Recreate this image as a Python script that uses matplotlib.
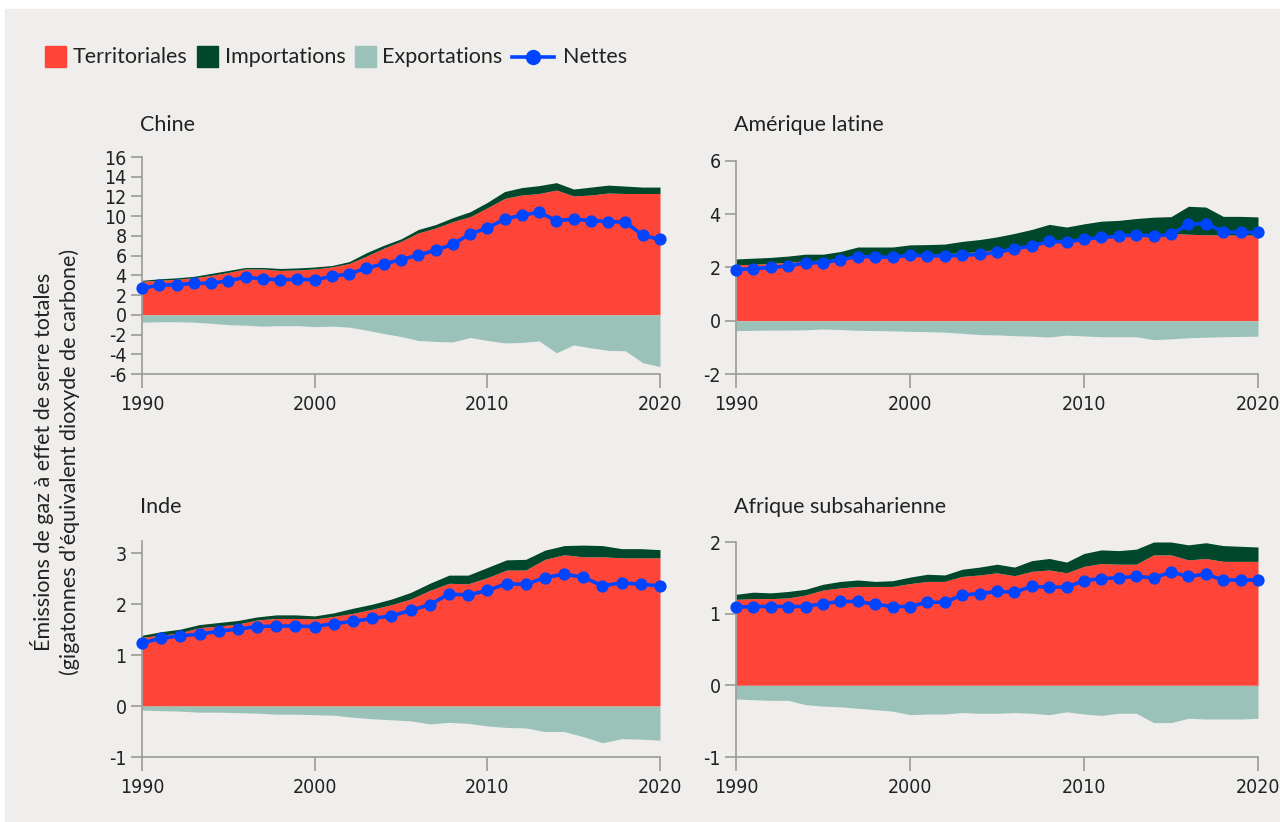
import numpy as np
import matplotlib
matplotlib.use('Agg')
import matplotlib.pyplot as plt
from matplotlib.patches import Rectangle
from matplotlib.lines import Line2D

plt.rcParams['axes.unicode_minus'] = False

# data (gigatonnes CO2e)
years = np.arange(1990, 2021)
india_years = np.linspace(1990, 2020, 28)  # India series has 28 points over the same span

china_terr = [3.4, 3.5, 3.6, 3.75, 4.0, 4.3, 4.65, 4.65, 4.5, 4.55, 4.65, 4.85, 5.2, 5.95, 6.75, 7.45,
              8.3, 8.8, 9.45, 9.95, 10.85, 11.8, 12.15, 12.3, 12.65, 12.05, 12.15, 12.35, 12.3, 12.3, 12.3]
china_imp = [0.1, 0.15, 0.15, 0.15, 0.2, 0.2, 0.15, 0.15, 0.2, 0.2, 0.2, 0.15, 0.2, 0.35, 0.3, 0.25,
             0.35, 0.35, 0.4, 0.5, 0.55, 0.7, 0.75, 0.8, 0.75, 0.7, 0.8, 0.8, 0.75, 0.65, 0.65]
china_exp = [0.75, 0.7, 0.7, 0.75, 0.85, 1.0, 1.05, 1.15, 1.1, 1.1, 1.2, 1.15, 1.25, 1.55, 1.9, 2.2,
             2.6, 2.7, 2.75, 2.3, 2.6, 2.85, 2.8, 2.65, 3.85, 3.05, 3.35, 3.6, 3.65, 4.85, 5.25]
china_net = [2.7, 3.0, 3.05, 3.2, 3.2, 3.45, 3.8, 3.65, 3.55, 3.6, 3.55, 3.9, 4.15, 4.75, 5.15, 5.6,
             6.05, 6.55, 7.15, 8.2, 8.8, 9.7, 10.1, 10.4, 9.55, 9.7, 9.55, 9.45, 9.4, 8.05, 7.65]

latam_terr = [2.1, 2.12, 2.15, 2.2, 2.25, 2.28, 2.33, 2.42, 2.45, 2.45, 2.5, 2.52, 2.52, 2.55, 2.6, 2.68,
              2.75, 2.85, 2.98, 3.0, 3.1, 3.15, 3.18, 3.22, 3.25, 3.28, 3.25, 3.23, 3.22, 3.22, 3.22]
latam_imp = [0.22, 0.23, 0.23, 0.23, 0.25, 0.22, 0.27, 0.35, 0.32, 0.32, 0.35, 0.34, 0.36, 0.43, 0.45, 0.47,
             0.53, 0.58, 0.64, 0.52, 0.54, 0.59, 0.59, 0.62, 0.64, 0.63, 1.05, 1.04, 0.7, 0.7, 0.68]
latam_exp = [0.37, 0.36, 0.35, 0.35, 0.34, 0.31, 0.33, 0.36, 0.37, 0.38, 0.4, 0.41, 0.43, 0.47, 0.52, 0.53,
             0.56, 0.58, 0.61, 0.54, 0.57, 0.6, 0.6, 0.6, 0.71, 0.68, 0.64, 0.62, 0.6, 0.59, 0.58]
latam_net = [1.92, 1.96, 2.0, 2.06, 2.17, 2.18, 2.29, 2.41, 2.4, 2.38, 2.46, 2.44, 2.43, 2.46, 2.49, 2.57,
             2.7, 2.81, 2.98, 2.96, 3.06, 3.13, 3.17, 3.23, 3.18, 3.24, 3.63, 3.65, 3.34, 3.32, 3.32]

india_terr = [1.35, 1.39, 1.44, 1.54, 1.57, 1.61, 1.69, 1.72, 1.72, 1.71, 1.76, 1.82, 1.9, 1.99,
              2.1, 2.27, 2.41, 2.4, 2.52, 2.67, 2.67, 2.88, 2.97, 2.93, 2.93, 2.91, 2.91, 2.91]
india_imp = [0.04, 0.07, 0.07, 0.06, 0.07, 0.07, 0.06, 0.07, 0.07, 0.06, 0.07, 0.1, 0.1, 0.11,
             0.13, 0.14, 0.16, 0.17, 0.2, 0.2, 0.21, 0.18, 0.18, 0.23, 0.22, 0.18, 0.18, 0.16]
india_exp = [0.08, 0.09, 0.1, 0.12, 0.12, 0.13, 0.14, 0.16, 0.16, 0.17, 0.18, 0.22, 0.25, 0.27,
             0.29, 0.35, 0.32, 0.34, 0.39, 0.42, 0.43, 0.5, 0.5, 0.6, 0.72, 0.64, 0.65, 0.67]
india_net = [1.24, 1.33, 1.38, 1.41, 1.47, 1.51, 1.56, 1.57, 1.57, 1.56, 1.62, 1.66, 1.72, 1.77,
             1.88, 1.99, 2.2, 2.18, 2.27, 2.4, 2.39, 2.52, 2.59, 2.53, 2.36, 2.42, 2.39, 2.36]

africa_terr = [1.2, 1.21, 1.21, 1.22, 1.26, 1.33, 1.36, 1.38, 1.38, 1.38, 1.42, 1.45, 1.45, 1.52, 1.54, 1.57,
               1.53, 1.59, 1.61, 1.57, 1.66, 1.7, 1.69, 1.69, 1.82, 1.82, 1.75, 1.77, 1.73, 1.73, 1.73]
africa_imp = [0.07, 0.09, 0.08, 0.09, 0.08, 0.08, 0.09, 0.09, 0.07, 0.08, 0.09, 0.1, 0.09, 0.1, 0.11, 0.12,
              0.12, 0.15, 0.16, 0.15, 0.18, 0.19, 0.19, 0.21, 0.18, 0.18, 0.21, 0.22, 0.22, 0.21, 0.2]
africa_exp = [0.19, 0.2, 0.21, 0.21, 0.27, 0.29, 0.3, 0.32, 0.34, 0.36, 0.41, 0.4, 0.4, 0.38, 0.39, 0.39,
              0.38, 0.39, 0.41, 0.37, 0.4, 0.42, 0.39, 0.39, 0.52, 0.52, 0.46, 0.47, 0.47, 0.47, 0.46]
africa_net = [1.09, 1.1, 1.1, 1.1, 1.1, 1.14, 1.17, 1.17, 1.13, 1.1, 1.1, 1.16, 1.16, 1.26, 1.28, 1.31,
              1.3, 1.38, 1.37, 1.37, 1.46, 1.49, 1.5, 1.52, 1.5, 1.58, 1.52, 1.55, 1.47, 1.47, 1.47]

series_labels = ["Territoriales", "Importations", "Exportations", "Nettes"]
xticks = [1990, 2000, 2010, 2020]

RED = '#FF4538'
GREEN = '#00472B'
TEAL = '#9BC2B9'
BLUE = '#0044FF'
BG = '#EFEEEC'
INK = '#222222'
AXIS = '#9A9A9A'
TITLE_FONT = ['Lato', 'DejaVu Sans']
TICK_FONT = ['DejaVu Sans']

W, H = 1280, 822
fig = plt.figure(figsize=(12.8, 8.22), dpi=100, facecolor='white')
fig.add_artist(Rectangle((5 / W, 0), 1, 1 - 9 / H, transform=fig.transFigure,
                         color=BG, zorder=-10))

# name, x, terr, imp, exp, net, box (left, top, right, bottom px), ylim, yticks, title pos
panels = [
    ("Chine", years, china_terr, china_imp, china_exp, china_net,
     (142, 157, 660, 374), (-6, 16), np.arange(-6, 17, 2), (140, 125)),
    ("Amérique latine", years, latam_terr, latam_imp, latam_exp, latam_net,
     (736, 161, 1258, 374), (-2, 6), np.arange(-2, 7, 2), (734, 125)),
    ("Inde", india_years, india_terr, india_imp, india_exp, india_net,
     (142, 541, 660, 757), (-1, 3.24), np.arange(-1, 4, 1), (140, 507)),
    ("Afrique subsaharienne", years, africa_terr, africa_imp, africa_exp, africa_net,
     (736, 542, 1258, 757), (-1, 2), np.arange(-1, 3, 1), (734, 507)),
]

for name, x, terr, imp, exp, net, box, ylim, yticks, tpos in panels:
    left, top, right, bottom = box
    ax = fig.add_axes([left / W, 1 - bottom / H, (right - left) / W, (bottom - top) / H])
    ax.set_facecolor('none')
    terr = np.array(terr)
    ax.fill_between(x, 0, terr, color=RED, lw=0)
    ax.fill_between(x, terr, terr + np.array(imp), color=GREEN, lw=0)
    ax.fill_between(x, 0, -np.array(exp), color=TEAL, lw=0)
    ax.plot(x, net, color=BLUE, lw=2.6, marker='o', ms=7.8, clip_on=False, zorder=5)
    ax.set_xlim(1990, 2020)
    ax.set_ylim(*ylim)
    ax.set_xticks(xticks)
    ax.set_yticks(yticks)
    for s in ['top', 'right']:
        ax.spines[s].set_visible(False)
    for s in ['left', 'bottom']:
        ax.spines[s].set_color(AXIS)
        ax.spines[s].set_linewidth(1.2)
    ax.tick_params(axis='x', length=10, width=1.2, color=AXIS, pad=5)
    ax.tick_params(axis='y', length=8, width=1.2, color=AXIS, pad=3)
    for lab in ax.get_xticklabels() + ax.get_yticklabels():
        lab.set_family(TICK_FONT)
        lab.set_stretch('condensed')
        lab.set_fontsize(14)
        lab.set_color(INK)
    fig.text(tpos[0] / W, 1 - tpos[1] / H, name, family=TITLE_FONT, fontsize=15.5,
             color=INK, va='center', ha='left')

fig.text(55 / W, 1 - 462 / H,
         "Émissions de gaz à effet de serre totales\n(gigatonnes d’équivalent dioxyde de carbone)",
         rotation=90, ha='center', va='center', multialignment='center',
         family=TITLE_FONT, fontsize=15.5, color=INK, linespacing=1.35)

# legend laid out by hand
renderer = fig.canvas.get_renderer()
lx, ly = 45, 57
for label, color in zip(series_labels[:3], [RED, GREEN, TEAL]):
    fig.add_artist(Rectangle((lx / W, 1 - (ly + 10.5) / H), 21 / W, 21 / H,
                             transform=fig.transFigure, color=color))
    t = fig.text((lx + 28) / W, 1 - ly / H, label, family=TITLE_FONT, fontsize=15.5,
                 color=INK, va='center', ha='left')
    lx = t.get_window_extent(renderer).x1 + 9
fig.add_artist(Line2D([lx / W, (lx + 42) / W], [1 - ly / H, 1 - ly / H],
                      transform=fig.transFigure, color=BLUE, lw=2.6))
fig.add_artist(Line2D([(lx + 21) / W], [1 - ly / H], transform=fig.transFigure,
                      color=BLUE, marker='o', ms=10))
fig.text((lx + 51) / W, 1 - ly / H, series_labels[3], family=TITLE_FONT, fontsize=15.5,
         color=INK, va='center', ha='left')

fig.savefig('out.png', dpi=100, facecolor=fig.get_facecolor())
